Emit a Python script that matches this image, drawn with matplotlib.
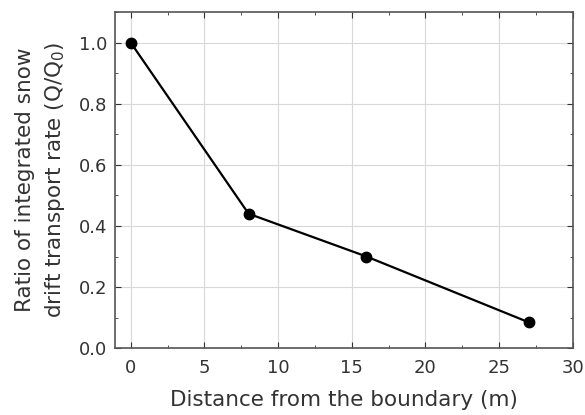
import matplotlib
matplotlib.use("Agg")
import matplotlib.pyplot as plt
from matplotlib.ticker import MultipleLocator

distance = [0, 8, 16, 27]
ratio = [1.0, 0.44, 0.30, 0.085]

plt.rcParams['font.family'] = ['DejaVu Sans']

fig = plt.figure(figsize=(5.85, 4.15), dpi=100)
ax = fig.add_axes([0.197, 0.161, 0.782, 0.81])

ax.plot(distance, ratio, color='black', lw=1.6, marker='o', ms=7.5, zorder=3)

ax.set_xlim(-1.05, 30)
ax.set_ylim(0, 1.1)
ax.xaxis.set_major_locator(MultipleLocator(5))
ax.xaxis.set_minor_locator(MultipleLocator(2.5))
ax.yaxis.set_minor_locator(MultipleLocator(0.1))
ax.set_yticks([0, 0.2, 0.4, 0.6, 0.8, 1.0])
ax.set_yticklabels([f"{v:.1f}" for v in [0, 0.2, 0.4, 0.6, 0.8, 1.0]])
ax.grid(True, which='major', color='#d8d8d8', lw=0.8)
ax.set_axisbelow(True)
ax.tick_params(which='both', direction='in', top=True, right=True, labelsize=13, colors='#333333')
ax.tick_params(which='major', length=4)
ax.tick_params(which='minor', length=2.5)
ax.tick_params(axis='x', pad=8)
ax.tick_params(axis='y', pad=6)
for s in ax.spines.values():
    s.set_color('#555555')
    s.set_linewidth(1.2)

ax.set_xlabel('Distance from the boundary (m)', fontsize=15.5, color='#333333', labelpad=9)
ax.set_ylabel('Ratio of integrated snow\ndrift transport rate (Q/Q$_0$)', fontsize=15.5,
              color='#333333', labelpad=8, linespacing=1.45)

fig.savefig('out.png', dpi=100)
